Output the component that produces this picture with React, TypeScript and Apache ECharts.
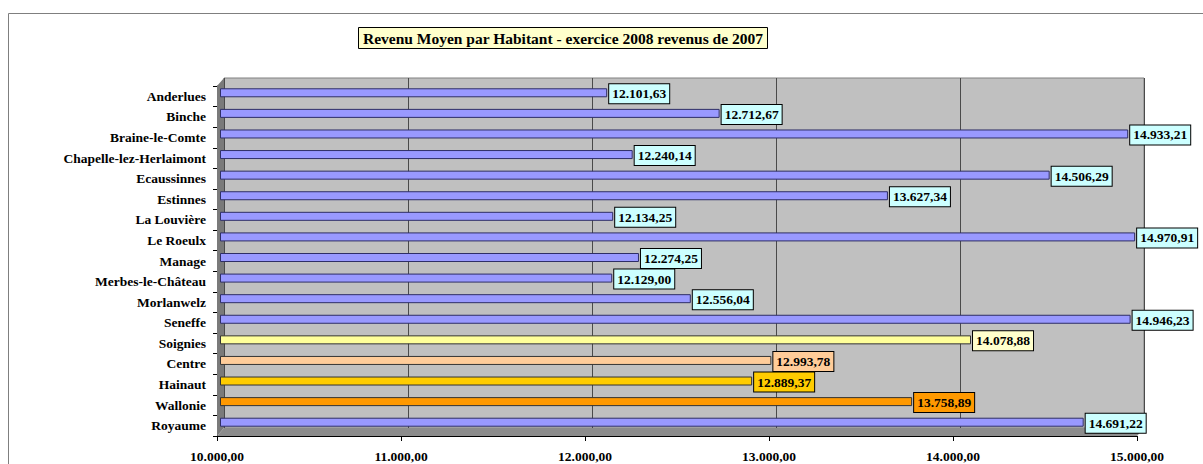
import React, { useEffect, useRef } from "react";
import * as echarts from "echarts";

const titleText = "Revenu Moyen par Habitant - exercice 2008 revenus de 2007";

const categories = [
  "Anderlues",
  "Binche",
  "Braine-le-Comte",
  "Chapelle-lez-Herlaimont",
  "Ecaussinnes",
  "Estinnes",
  "La Louvière",
  "Le Roeulx",
  "Manage",
  "Merbes-le-Château",
  "Morlanwelz",
  "Seneffe",
  "Soignies",
  "Centre",
  "Hainaut",
  "Wallonie",
  "Royaume",
];

const values = [
  12101.63, 12712.67, 14933.21, 12240.14, 14506.29, 13627.34, 12134.25,
  14970.91, 12274.25, 12129.0, 12556.04, 14946.23, 14078.88, 12993.78,
  12889.37, 13758.89, 14691.22,
];

const axisMin = 10000;
const axisMax = 15000;
const axisStep = 1000;

// styling (not data)
const defaultStyle = { bar: "#9999FF", border: "#2E2E66", label: "#CCFFFF" };
const specialStyles: Record<string, { bar: string; border: string; label: string }> = {
  Soignies: { bar: "#FFFF99", border: "#333333", label: "#FFFFCC" },
  Centre: { bar: "#FFCC99", border: "#333333", label: "#FFCC99" },
  Hainaut: { bar: "#FFCC00", border: "#333333", label: "#FFCC00" },
  Wallonie: { bar: "#FF9900", border: "#333333", label: "#FF9900" },
};

const fmt = (v: number) => {
  const [i, d] = Number(v).toFixed(2).split(".");
  return i.replace(/\B(?=(\d{3})+(?!\d))/g, ".") + "," + d;
};

const FONT = "Liberation Serif";

export default function App() {
  const ref = useRef<HTMLDivElement>(null);

  useEffect(() => {
    if (!ref.current) return;
    const chart = echarts.init(ref.current, undefined, { renderer: "svg" });

    const data = values.map((v, i) => {
      const s = specialStyles[categories[i]] || defaultStyle;
      return {
        value: v,
        itemStyle: { color: s.bar, borderColor: s.border, borderWidth: 1 },
        label: { backgroundColor: s.label },
      };
    });

    chart.setOption({
      animation: false,
      backgroundColor: "#FFFFFF",
      title: {
        text: titleText,
        left: 358,
        top: 27,
        padding: [3, 5],
        backgroundColor: "#FFFFCC",
        borderColor: "#000000",
        borderWidth: 1,
        textStyle: {
          fontFamily: FONT,
          fontWeight: "bold",
          fontSize: 15.5,
          lineHeight: 16,
          color: "#000000",
        },
      },
      graphic: [
        {
          type: "rect",
          z: 0,
          shape: { x: 8.5, y: 13.5, width: 1210, height: 470 },
          style: { fill: "none", stroke: "#7F7F7F", lineWidth: 1 },
        },
        {
          type: "polygon",
          z: 1,
          shape: { points: [[217, 86], [224, 78], [224, 428], [217, 436]] },
          style: { fill: "#7A7A7A" },
        },
        {
          type: "polygon",
          z: 1,
          shape: { points: [[217, 436], [224, 428], [1144, 428], [1137, 436]] },
          style: { fill: "#8C8C8C" },
        },
      ],
      grid: [
        {
          left: 224,
          top: 78,
          width: 920,
          height: 350,
          show: true,
          backgroundColor: "#C0C0C0",
          borderColor: "#808080",
          borderWidth: 1,
        },
        { left: 217, top: 86, width: 920, height: 350 },
        { left: 220.5, top: 82.5, width: 920, height: 350 },
      ],
      xAxis: [
        {
          gridIndex: 0,
          type: "value",
          min: axisMin,
          max: axisMax,
          interval: axisStep,
          axisLine: { show: false },
          axisTick: { show: false },
          axisLabel: { show: false },
          splitLine: { show: true, lineStyle: { color: "#4A4A4A", width: 1 } },
        },
        {
          gridIndex: 1,
          type: "value",
          min: axisMin,
          max: axisMax,
          interval: axisStep,
          axisLine: { show: true, lineStyle: { color: "#000000", width: 1 } },
          axisTick: { show: true, length: 5, lineStyle: { color: "#000000" } },
          splitLine: { show: false },
          axisLabel: {
            margin: 13,
            formatter: (v: number) => fmt(v),
            fontFamily: FONT,
            fontWeight: "bold",
            fontSize: 13.5,
            color: "#000000",
          },
        },
        {
          gridIndex: 2,
          type: "value",
          min: axisMin,
          max: axisMax,
          show: false,
        },
      ],
      yAxis: [
        {
          gridIndex: 0,
          type: "category",
          data: categories,
          inverse: true,
          show: false,
        },
        {
          gridIndex: 1,
          type: "category",
          data: categories,
          inverse: true,
          axisLine: { show: true, lineStyle: { color: "#000000", width: 1 } },
          axisTick: { show: true, length: 4, lineStyle: { color: "#000000" } },
          axisLabel: {
            margin: 11,
            fontFamily: FONT,
            fontWeight: "bold",
            fontSize: 13.5,
            color: "#000000",
          },
        },
        {
          gridIndex: 2,
          type: "category",
          data: categories,
          inverse: true,
          show: false,
        },
      ],
      series: [
        {
          type: "bar",
          xAxisIndex: 2,
          yAxisIndex: 2,
          barWidth: 9,
          data,
          z: 3,
          label: {
            show: true,
            position: "right",
            distance: 2,
            offset: [0, 1],
            formatter: (p: any) => fmt(p.value),
            fontFamily: FONT,
            fontWeight: "bold",
            fontSize: 13.5,
            lineHeight: 15,
            color: "#000000",
            borderColor: "#000000",
            borderWidth: 1,
            padding: [2, 3, 2, 3],
          },
        },
      ],
    });

    return () => chart.dispose();
  }, []);

  return (
    <div
      ref={ref}
      style={{ position: "absolute", left: 0, top: 0, width: 1203, height: 464 }}
    />
  );
}
